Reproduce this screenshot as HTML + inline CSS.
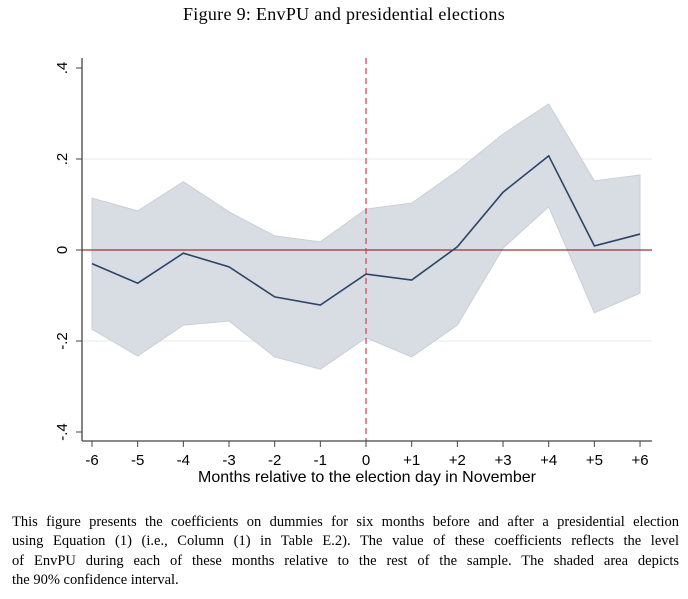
<!DOCTYPE html>
<html><head><meta charset="utf-8"><style>
body{margin:0;background:#fff;width:688px;height:599px;overflow:hidden;font-family:"Liberation Serif",serif}
.t{position:absolute;left:0;width:688px;text-align:center;top:4px;font-size:18px;letter-spacing:0.3px}
.cap{position:absolute;left:12px;top:513px;width:667px;font-size:14.5px;line-height:19.3px}
.cap div{text-align:justify;text-align-last:justify;white-space:nowrap}
.cap div.last{text-align-last:left}
</style></head><body>
<div class="t">Figure 9: EnvPU and presidential elections</div>
<svg id="c" width="688" height="500" style="position:absolute;left:0;top:0"></svg>
<div class="cap">
<div style="white-space:normal">This figure presents the coefficients on dummies for six months before and after a presidential election</div>
<div style="white-space:normal">using Equation (1) (i.e., Column (1) in Table E.2). The value of these coefficients reflects the level</div>
<div style="white-space:normal">of EnvPU during each of these months relative to the rest of the sample. The shaded area depicts</div>
<div class="last">the 90% confidence interval.</div>
</div>
<script>
const months=[-6,-5,-4,-3,-2,-1,0,1,2,3,4,5,6];
const monthLabels=["-6","-5","-4","-3","-2","-1","0","+1","+2","+3","+4","+5","+6"];
const coef=[-0.03,-0.073,-0.007,-0.037,-0.103,-0.121,-0.053,-0.066,0.007,0.127,0.207,0.009,0.035];
const upper=[0.114,0.086,0.15,0.084,0.031,0.018,0.09,0.103,0.174,0.255,0.321,0.152,0.165];
const lower=[-0.174,-0.233,-0.165,-0.156,-0.235,-0.262,-0.193,-0.235,-0.165,0.004,0.095,-0.138,-0.095];
const yTicks=[-0.4,-0.2,0,0.2,0.4];
const yLabels=["-.4","-.2","0",".2",".4"];
const X=m=>92+(m+6)*45.67, Y=v=>250-v*455;
const svg=document.getElementById('c'),NS='http://www.w3.org/2000/svg';
function mk(t,a,name){const e=document.createElementNS(NS,t);for(const k in a)e.setAttribute(k,a[k]);


svg.appendChild(e);return e;}
[0.2,-0.2].forEach(v=>mk('line',{x1:82,x2:652,y1:Y(v),y2:Y(v),stroke:'#eaeaea','stroke-width':1},'gridline'));
let pts=months.map((m,i)=>X(m)+','+Y(upper[i])).concat(months.slice().reverse().map((m,j)=>X(m)+','+Y(lower[months.length-1-j])));
mk('polygon',{points:pts.join(' '),fill:'#d8dde3',stroke:'#c9cfd6','stroke-width':1},'confidence-band');
mk('line',{x1:82,x2:652,y1:Y(0),y2:Y(0),stroke:'#a0303a','stroke-width':1.2},'zero-line');
mk('line',{x1:X(0),x2:X(0),y1:58,y2:441,stroke:'#d04050','stroke-width':1.2,'stroke-dasharray':'6,4'},'election-line');
mk('polyline',{points:months.map((m,i)=>X(m)+','+Y(coef[i])).join(' '),fill:'none',stroke:'#2c4468','stroke-width':1.6},'coefficient-line');
mk('line',{x1:82,x2:82,y1:58,y2:441,stroke:'#444','stroke-width':1.3},'y-axis');
mk('line',{x1:82,x2:652,y1:441,y2:441,stroke:'#444','stroke-width':1.3},'x-axis');
yTicks.forEach((v,i)=>{const y=Y(v);
mk('line',{x1:76,x2:82,y1:y,y2:y,stroke:'#444'},'y-tick');
const t=mk('text',{x:67,y:y,transform:`rotate(-90 67 ${y})`,'text-anchor':'middle','font-family':'Liberation Sans, sans-serif','font-size':15},'y-tick-label');t.textContent=yLabels[i];});
months.forEach((m,i)=>{const x=X(m);
mk('line',{x1:x,x2:x,y1:441,y2:447,stroke:'#444'},'x-tick');
const t=mk('text',{x:x,y:465,'text-anchor':'middle','font-family':'Liberation Sans, sans-serif','font-size':15},'x-tick-label');t.textContent=monthLabels[i];});
const xt=mk('text',{x:367,y:482,'text-anchor':'middle','font-family':'Liberation Sans, sans-serif','font-size':16},'x-axis-title');xt.textContent='Months relative to the election day in November';
</script>
</body></html>
